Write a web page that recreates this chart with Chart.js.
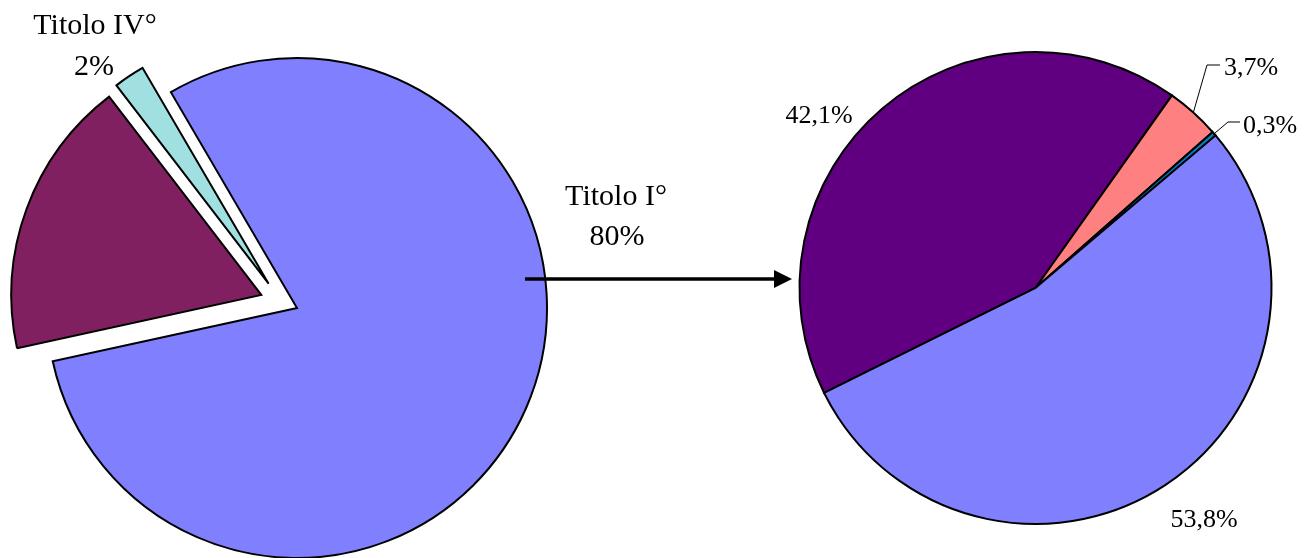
<!DOCTYPE html>
<html>
<head>
<meta charset="utf-8">
<script src="https://cdn.jsdelivr.net/npm/chart.js@4/dist/chart.umd.min.js"></script>
<style>
  html, body { margin: 0; padding: 0; background: #ffffff; }
  #wrap { position: relative; width: 1304px; height: 558px; overflow: hidden; }
  #wrap canvas { position: absolute; left: 0; top: 0; }
</style>
</head>
<body>
<div id="wrap">
  <canvas id="pieTitoli" width="1304" height="558"></canvas>
  <canvas id="pieDettaglio" width="1304" height="558"></canvas>
</div>
<script>
// Ripartizione per titolo (torta di sinistra)
const titoliLabels = ['Titolo I°', 'Titolo II°', 'Titolo IV°'];
const titoliValues = [80, 18, 2];
const titoliColors = ['#8080FF', '#802060', '#A0E0E0'];

// Dettaglio del Titolo I° (torta di destra)
const dettaglioLabels = ['Voce 1', 'Voce 2', 'Voce 3', 'Voce 4'];
const dettaglioValues = [42.1, 3.7, 0.3, 53.8];
const dettaglioColors = ['#600080', '#FF8080', '#0080C0', '#8080FF'];

const FONT = '"Liberation Serif", "Times New Roman", serif';

function pctInt(v) { return v + '%'; }
function pctDec(v) { return v.toFixed(1).replace('.', ',') + '%'; }

// Draws slices pulled away from the centre along their bisector
const explodePlugin = {
  id: 'explodeSlices',
  beforeDatasetDraw(chart, args) {
    const ds = chart.data.datasets[args.index];
    if (!ds.explode) return;
    const ctx = chart.ctx;
    args.meta.data.forEach((arc, i) => {
      const a = (arc.startAngle + arc.endAngle) / 2;
      const r = ds.explode[i] || 0;
      const t = (ds.explodeShift && ds.explodeShift[i]) || 0;
      ctx.save();
      ctx.translate(Math.cos(a) * r - Math.sin(a) * t, Math.sin(a) * r + Math.cos(a) * t);
      arc.draw(ctx, chart.chartArea);
      ctx.restore();
    });
    return false;
  }
};

// Labels of the left pie and the arrow leading to the detail pie
const titoliAnnotations = {
  id: 'titoliAnnotations',
  afterDraw(chart) {
    const ctx = chart.ctx;
    ctx.save();
    ctx.fillStyle = '#000';
    ctx.font = '30px ' + FONT;
    ctx.textAlign = 'center';
    ctx.textBaseline = 'alphabetic';
    ctx.fillText(titoliLabels[2], 95, 34);
    ctx.fillText(pctInt(titoliValues[2]), 94, 75);
    ctx.fillText(titoliLabels[0], 616, 205);
    ctx.fillText(pctInt(titoliValues[0]), 617, 245);

    // arrow
    ctx.strokeStyle = '#000';
    ctx.lineWidth = 3.5;
    ctx.beginPath();
    ctx.moveTo(525, 279);
    ctx.lineTo(777, 279);
    ctx.stroke();
    ctx.beginPath();
    ctx.moveTo(774, 270);
    ctx.lineTo(792, 279);
    ctx.lineTo(774, 288);
    ctx.closePath();
    ctx.fill();
    ctx.restore();
  }
};

// Percent labels of the detail pie, with leader lines for the thin slices
const dettaglioAnnotations = {
  id: 'dettaglioAnnotations',
  afterDraw(chart) {
    const ctx = chart.ctx;
    const arcs = chart.getDatasetMeta(0).data;
    const edge = (arc) => {
      const a = (arc.startAngle + arc.endAngle) / 2;
      return [arc.x + Math.cos(a) * arc.outerRadius, arc.y + Math.sin(a) * arc.outerRadius];
    };
    ctx.save();
    ctx.fillStyle = '#000';
    ctx.strokeStyle = '#000';
    ctx.lineWidth = 1;
    ctx.font = '26px ' + FONT;
    ctx.textBaseline = 'alphabetic';

    ctx.textAlign = 'center';
    ctx.fillText(pctDec(dettaglioValues[0]), 819, 123);
    ctx.fillText(pctDec(dettaglioValues[3]), 1204, 527);

    // leader lines
    let p = edge(arcs[1]);
    ctx.beginPath();
    ctx.moveTo(p[0], p[1]);
    ctx.lineTo(1207, 65);
    ctx.lineTo(1220, 65);
    ctx.stroke();
    p = edge(arcs[2]);
    ctx.beginPath();
    ctx.moveTo(p[0], p[1]);
    ctx.lineTo(1228, 122);
    ctx.lineTo(1240, 122);
    ctx.stroke();

    ctx.textAlign = 'left';
    ctx.fillText(pctDec(dettaglioValues[1]), 1224, 75);
    ctx.fillText(pctDec(dettaglioValues[2]), 1243, 133);
    ctx.restore();
  }
};

const common = {
  responsive: false,
  animation: false,
  events: [],
  plugins: { legend: { display: false }, tooltip: { enabled: false } }
};

new Chart(document.getElementById('pieTitoli'), {
  type: 'pie',
  data: {
    labels: titoliLabels,
    datasets: [{
      data: titoliValues,
      backgroundColor: titoliColors,
      borderColor: '#000',
      borderWidth: 2,
      borderJoinStyle: 'miter',
      explode: [0, 38, 36],
      explodeShift: [0, 0, -10],
      clip: false
    }]
  },
  options: Object.assign({}, common, {
    rotation: -30.3,
    radius: 250,
    layout: { padding: { left: 0, right: 710, top: 58, bottom: 0 } }
  }),
  plugins: [explodePlugin, titoliAnnotations]
});

new Chart(document.getElementById('pieDettaglio'), {
  type: 'pie',
  data: {
    labels: dettaglioLabels,
    datasets: [{
      data: dettaglioValues,
      backgroundColor: dettaglioColors,
      borderColor: '#000',
      borderWidth: 2,
      borderJoinStyle: 'miter',
      clip: false
    }]
  },
  options: Object.assign({}, common, {
    rotation: 243.6,
    radius: 236,
    layout: { padding: { left: 790, right: 23, top: 40, bottom: 22 } }
  }),
  plugins: [dettaglioAnnotations]
});
</script>
</body>
</html>
